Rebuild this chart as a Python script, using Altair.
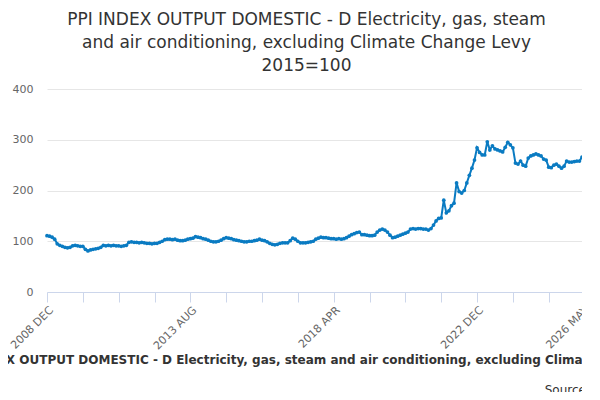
import altair as alt
import pandas as pd

MONTHS = ["JAN", "FEB", "MAR", "APR", "MAY", "JUN", "JUL", "AUG", "SEP", "OCT", "NOV", "DEC"]

values = (
    [111]
    + [110, 108, 104, 95, 92, 90, 88, 87, 88, 91, 92, 91]          # 2009
    + [90, 90, 84, 81, 83, 84, 85, 86, 88, 92, 91, 92]             # 2010
    + [91, 92, 91, 91, 90, 91, 92, 98, 99, 98, 98, 97]             # 2011
    + [98, 97, 96, 96, 95, 96, 96, 98, 100, 103, 104, 104]         # 2012
    + [103, 104, 102, 101, 101, 102, 104, 105, 106, 109, 108, 107] # 2013
    + [105, 104, 102, 100, 99, 99, 100, 102, 105, 107, 106, 105]   # 2014
    + [103, 102, 101, 100, 99, 99, 100, 100, 101, 102, 104, 102]   # 2015
    + [101, 99, 96, 94, 93, 94, 96, 97, 97, 97, 101, 106]          # 2016
    + [104, 100, 97, 97, 97, 98, 99, 100, 104, 106, 108, 107]      # 2017
    + [107, 106, 105, 105, 104, 105, 104, 105, 107, 110, 113, 115] # 2018
    + [117, 118, 113, 113, 112, 111, 111, 112, 118, 122, 124, 122] # 2019
    + [118, 112, 107, 108, 110, 112, 114, 116, 118, 124, 125, 124] # 2020
    + [125, 125, 124, 124, 122, 125, 132, 140, 145, 146, 181, 156] # 2021
    + [160, 170, 175, 215, 198, 195, 200, 215, 230, 244, 260, 284] # 2022
    + [275, 270, 270, 296, 280, 288, 282, 280, 278, 276, 285, 295] # 2023
    + [290, 284, 254, 252, 258, 250, 248, 264, 268, 270, 272, 270] # 2024
    + [268, 262, 260, 246, 245, 250, 252, 248, 244, 248, 258, 256] # 2025
    + [256, 257, 258, 258, 266]                                    # 2026
)

labels = ["2008 DEC"] + [f"{y} {m}" for y in range(2009, 2027) for m in MONTHS]
labels = labels[:len(values)]
shown = ["2008 DEC", "2013 AUG", "2018 APR", "2022 DEC", "2026 MAY"]
tick_vals = labels[::14] + [labels[-1]]

df = pd.DataFrame({"period": labels, "value": values})

x = alt.X("period:O", sort=None, title=None, scale=alt.Scale(type="point", padding=0),
          axis=alt.Axis(values=tick_vals, labelAngle=-45, labelAlign="right", labelBaseline="top",
                        labelExpr="indexof(" + str(shown).replace("'", '"') + ", datum.value) >= 0 ? datum.value : ''",
                        labelColor="#666666", labelFontSize=11, labelFont="DejaVu Sans",
                        domainColor="#ccd6eb", tickColor="#ccd6eb", tickSize=10, grid=False, labelPadding=2))
y = alt.Y("value:Q", title=None, scale=alt.Scale(domain=[0, 400]),
          axis=alt.Axis(values=[0, 100, 200, 300, 400], domain=False, ticks=False, gridColor="#e6e6e6",
                        labelColor="#666666", labelFontSize=11, labelFont="DejaVu Sans", labelPadding=14))

line = alt.Chart(df).mark_line(color="#0a7bc2", strokeWidth=2, point=alt.OverlayMarkDef(size=14, color="#0a7bc2")).encode(x=x, y=y)

legend = alt.Chart(df.head(1)).mark_text(
    text="PPI INDEX OUTPUT DOMESTIC - D Electricity, gas, steam and air conditioning, excluding Climate Change Levy",
    fontWeight="bold", fontSize=12, font="DejaVu Sans", color="#333333", align="center", baseline="middle"
).encode(x=alt.value(270), y=alt.value(271))

source = alt.Chart(df.head(1)).mark_text(
    text="Source:", fontSize=12, font="DejaVu Sans", color="#333333", align="right", baseline="middle"
).encode(x=alt.value(543), y=alt.value(301))

chart = alt.layer(line, legend, source).properties(
    width=535, height=203,
    autosize=alt.AutoSizeParams(type="none"),
    padding={"left": 39, "top": 81, "right": 0, "bottom": 100},
    title=alt.TitleParams(
        text=["PPI INDEX OUTPUT DOMESTIC - D Electricity, gas, steam",
              "and air conditioning, excluding Climate Change Levy", "2015=100"],
        fontSize=17, font="DejaVu Sans", fontWeight="normal", color="#333333",
        anchor="middle", lineHeight=23, offset=8, dx=-8
    )
).configure_view(stroke=None)

chart.save("out.html", embed_options={"renderer": "svg", "actions": False})
